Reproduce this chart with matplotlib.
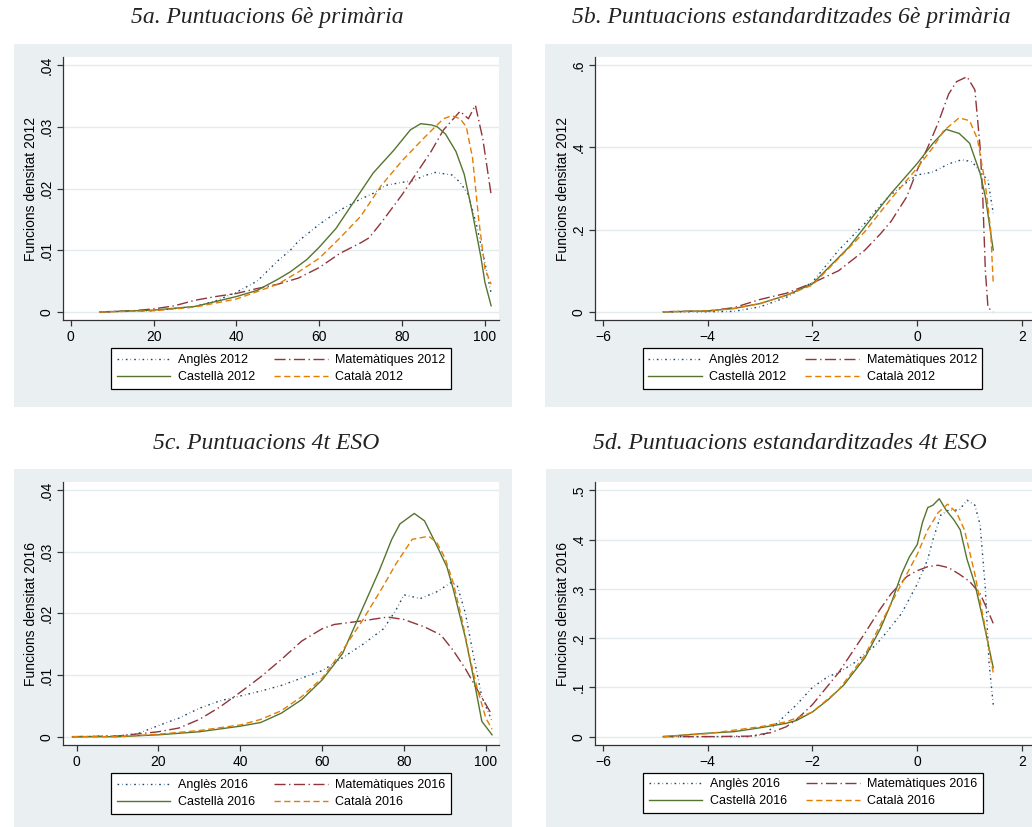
import matplotlib
matplotlib.use("Agg")
import matplotlib.pyplot as plt
from matplotlib.patches import Rectangle
from matplotlib.lines import Line2D

# ---- data (kernel densities) ----
# 5a. raw scores 6e primaria 2012
a_angles_x = [7, 20, 30, 35, 40, 45, 50, 53, 55, 60, 65, 70, 73, 76, 80, 83, 85, 88, 92, 94, 96, 98, 100, 101.5]
a_angles_y = [0, 0.0002, 0.0009, 0.0018, 0.0032, 0.005, 0.0083, 0.010, 0.0115, 0.0142, 0.0165, 0.0183, 0.0192,
              0.0205, 0.021, 0.0213, 0.022, 0.0226, 0.0222, 0.021, 0.019, 0.014, 0.008, 0.003]
a_mates_x = [7, 15, 20, 25, 30, 35, 40, 45, 50, 55, 60, 65, 70, 72, 75, 80, 84, 87, 90, 92, 94, 96, 97.7, 99.5, 101.5]
a_mates_y = [0, 0.0002, 0.0005, 0.001, 0.0019, 0.0025, 0.003, 0.0038, 0.0045, 0.0055, 0.0072, 0.0095, 0.0112,
             0.012, 0.0145, 0.019, 0.023, 0.026, 0.0295, 0.031, 0.0325, 0.0313, 0.0335, 0.028, 0.019]
a_cast_x = [7, 20, 30, 40, 45, 50, 53, 57, 60, 64, 66, 70, 73, 78, 82, 84.5, 87, 88.5, 90.5, 93, 95, 97, 99, 100, 101.5]
a_cast_y = [0, 0.0003, 0.0009, 0.0025, 0.0035, 0.0053, 0.0065, 0.0085, 0.0105, 0.0135, 0.0155, 0.0195, 0.0225,
            0.0262, 0.0295, 0.0305, 0.0303, 0.030, 0.0288, 0.026, 0.0223, 0.016, 0.009, 0.0048, 0.001]
a_cata_x = [7, 20, 30, 40, 50, 55, 60, 65, 70, 75, 80, 85, 88, 90, 92, 94, 95.5, 97, 98.5, 100, 101.5]
a_cata_y = [0, 0.0002, 0.0008, 0.0021, 0.0045, 0.0065, 0.0087, 0.012, 0.0155, 0.0205, 0.0245, 0.028, 0.030,
            0.0313, 0.0318, 0.0313, 0.030, 0.025, 0.015, 0.007, 0.0045]

# 5b. standardised scores 6e primaria 2012
b_angles_x = [-4.85, -4, -3.5, -3, -2.5, -2, -1.5, -1, -0.7, -0.5, -0.2, 0, 0.3, 0.6, 0.85, 1.05, 1.2, 1.35, 1.45]
b_angles_y = [0, 0, 0.001, 0.012, 0.035, 0.072, 0.15, 0.215, 0.26, 0.285, 0.315, 0.333, 0.34, 0.36, 0.37,
              0.365, 0.34, 0.32, 0.24]
b_mates_x = [-4.85, -4, -3.5, -3, -2.5, -2, -1.5, -1, -0.7, -0.5, -0.2, 0, 0.2, 0.4, 0.6, 0.75, 0.95, 1.1,
             1.2, 1.25, 1.3, 1.35, 1.45]
b_mates_y = [0, 0.002, 0.01, 0.03, 0.045, 0.07, 0.1, 0.15, 0.19, 0.22, 0.28, 0.345, 0.40, 0.46, 0.53, 0.56,
             0.572, 0.54, 0.40, 0.28, 0.10, 0.01, 0]
b_cast_x = [-4.85, -4, -3.5, -3, -2.5, -2, -1.3, -1, -0.5, 0, 0.3, 0.55, 0.8, 1.0, 1.2, 1.3, 1.45]
b_cast_y = [0, 0.002, 0.008, 0.02, 0.04, 0.068, 0.158, 0.207, 0.288, 0.361, 0.41, 0.444, 0.434, 0.41, 0.337,
            0.28, 0.15]
b_cata_x = [-4.85, -4, -3.5, -3, -2.5, -2, -1, -0.5, 0, 0.3, 0.5, 0.8, 1.0, 1.15, 1.3, 1.4, 1.45]
b_cata_y = [0, 0.002, 0.008, 0.02, 0.04, 0.065, 0.195, 0.275, 0.35, 0.40, 0.44, 0.472, 0.465, 0.42, 0.31,
            0.2, 0.07]

# 5c. raw scores 4t ESO 2016
c_angles_x = [-1, 10, 15, 20, 25, 30, 35, 40, 45, 50, 55, 60, 65, 70, 75, 78, 80, 84, 88, 91.5, 93, 95, 97, 99, 101.5]
c_angles_y = [0, 0.0001, 0.0005, 0.0018, 0.003, 0.0046, 0.0058, 0.0066, 0.0074, 0.0083, 0.0095, 0.0107,
              0.0128, 0.015, 0.0175, 0.0205, 0.023, 0.0224, 0.0235, 0.025, 0.0245, 0.02, 0.013, 0.0065, 0.0025]
c_mates_x = [-1, 10, 20, 25, 30, 35, 40, 45, 50, 55, 60, 63, 70, 76, 80, 85, 89, 92, 95, 98, 101.5]
c_mates_y = [0, 0.0001, 0.0008, 0.0014, 0.0028, 0.0048, 0.0072, 0.0097, 0.0125, 0.0155, 0.0175, 0.0182,
             0.0188, 0.0194, 0.019, 0.0178, 0.0165, 0.014, 0.011, 0.0075, 0.0035]
c_cast_x = [-1, 10, 20, 30, 40, 45, 50, 55, 60, 65, 70, 74, 77, 79, 82.5, 85, 88, 90.5, 92, 95, 97, 99, 101.5]
c_cast_y = [0, 0, 0.0003, 0.0008, 0.0017, 0.0023, 0.0038, 0.006, 0.0092, 0.0135, 0.021, 0.027, 0.032, 0.0345,
            0.0362, 0.035, 0.031, 0.0275, 0.024, 0.016, 0.0095, 0.0025, 0.0003]
c_cata_x = [-1, 10, 20, 30, 40, 45, 50, 55, 60, 65, 70, 75, 78, 82, 86, 88, 90, 92, 94, 96, 98, 100, 101.5]
c_cata_y = [0, 0, 0.0004, 0.001, 0.0019, 0.0028, 0.0042, 0.0065, 0.0095, 0.014, 0.019, 0.0245, 0.028, 0.032,
            0.0325, 0.0315, 0.029, 0.025, 0.0195, 0.013, 0.0075, 0.003, 0.0012]

# 5d. standardised scores 4t ESO 2016
d_angles_x = [-4.85, -3.2, -2.9, -2.6, -2.3, -2, -1.7, -1.5, -1.2, -1, -0.8, -0.6, -0.3, 0, 0.2, 0.3, 0.45,
              0.6, 0.8, 0.95, 1.1, 1.2, 1.3, 1.37, 1.45]
d_angles_y = [0, 0, 0.005, 0.035, 0.065, 0.1, 0.122, 0.13, 0.15, 0.168, 0.185, 0.21, 0.25, 0.31, 0.36, 0.4,
              0.45, 0.46, 0.46, 0.48, 0.47, 0.43, 0.3, 0.15, 0.065]
d_mates_x = [-4.85, -4, -3.2, -2.8, -2.5, -2.3, -2, -1.5, -1, -0.7, -0.5, -0.2, 0, 0.2, 0.4, 0.6, 0.8, 1.0,
             1.2, 1.35, 1.45]
d_mates_y = [0, 0, 0.001, 0.008, 0.02, 0.035, 0.065, 0.13, 0.21, 0.26, 0.29, 0.325, 0.337, 0.345, 0.348,
             0.343, 0.33, 0.315, 0.29, 0.255, 0.23]
d_cast_x = [-4.85, -4, -3.5, -3, -2.5, -2.3, -2, -1.7, -1.4, -1, -0.7, -0.5, -0.3, -0.15, 0, 0.1, 0.2, 0.3,
            0.42, 0.55, 0.7, 0.82, 0.95, 1.1, 1.25, 1.45]
d_cast_y = [0, 0.007, 0.01, 0.018, 0.027, 0.033, 0.05, 0.075, 0.105, 0.16, 0.22, 0.27, 0.33, 0.365, 0.39,
            0.435, 0.465, 0.47, 0.483, 0.46, 0.44, 0.42, 0.36, 0.31, 0.24, 0.14]
d_cata_x = [-4.85, -4, -3, -2.5, -2, -1.5, -1, -0.5, 0, 0.2, 0.4, 0.58, 0.75, 0.9, 1.1, 1.3, 1.45]
d_cata_y = [0, 0.006, 0.02, 0.03, 0.05, 0.095, 0.165, 0.27, 0.37, 0.42, 0.455, 0.472, 0.455, 0.42, 0.33,
            0.22, 0.13]

# ---- look (Stata s2color) ----
W, H = 1032, 827
BG = "#eaf0f2"
GRID = "#e3ebee"
NAVY, MAROON, GREEN, ORANGE = "#1a476f", "#90353b", "#55752f", "#e37e00"

plt.rcParams["font.family"] = ["Liberation Sans", "DejaVu Sans"]

fig = plt.figure(figsize=(W / 100, H / 100), dpi=100)


def px_rect(x0, y0, x1, y1):
    # pixel box (top-left origin) -> figure fraction [l, b, w, h]
    return [x0 / W, 1 - y1 / H, (x1 - x0) / W, (y1 - y0) / H]


def fmt_y(v):
    if v == 0:
        return "0"
    s = ("%.2f" % v).rstrip("0")
    return s[1:] if s.startswith("0") else s


panels = [
    dict(title="5a. Puntuacions 6è primària", tx=267, ty=18, bg=(14, 44, 512, 407),
         ax=(63, 57, 499, 320), leg=(114, 348, 448, 389), year="2012",
         xlim=(-1.9, 103.4), ylim=(-0.0013, 0.0413), xt=[0, 20, 40, 60, 80, 100],
         yt=[0, 0.01, 0.02, 0.03, 0.04],
         series=[(a_angles_x, a_angles_y), (a_mates_x, a_mates_y), (a_cast_x, a_cast_y), (a_cata_x, a_cata_y)]),
    dict(title="5b. Puntuacions estandarditzades 6è primària", tx=791, ty=18, bg=(545, 44, 1032, 407),
         ax=(595, 57, 1032, 320), leg=(645, 348, 980, 389), year="2012",
         xlim=(-6.15, 2.19), ylim=(-0.02, 0.62), xt=[-6, -4, -2, 0, 2],
         yt=[0, 0.2, 0.4, 0.6],
         series=[(b_angles_x, b_angles_y), (b_mates_x, b_mates_y), (b_cast_x, b_cast_y), (b_cata_x, b_cata_y)]),
    dict(title="5c. Puntuacions 4t ESO", tx=266, ty=443, bg=(14, 469, 512, 827),
         ax=(63, 482, 499, 745), leg=(114, 773, 448, 814), year="2016",
         xlim=(-3.3, 103.2), ylim=(-0.00135, 0.0413), xt=[0, 20, 40, 60, 80, 100],
         yt=[0, 0.01, 0.02, 0.03, 0.04],
         series=[(c_angles_x, c_angles_y), (c_mates_x, c_mates_y), (c_cast_x, c_cast_y), (c_cata_x, c_cata_y)]),
    dict(title="5d. Puntuacions estandarditzades 4t ESO", tx=790, ty=443, bg=(546, 469, 1032, 827),
         ax=(595, 482, 1032, 745), leg=(646, 773, 980, 813), year="2016",
         xlim=(-6.15, 2.19), ylim=(-0.017, 0.517), xt=[-6, -4, -2, 0, 2],
         yt=[0, 0.1, 0.2, 0.3, 0.4, 0.5],
         series=[(d_angles_x, d_angles_y), (d_mates_x, d_mates_y), (d_cast_x, d_cast_y), (d_cata_x, d_cata_y)]),
]

styles = [
    ("Anglès", NAVY, (0, (1.2, 2.2, 0.4, 2.2))),
    ("Matemàtiques", MAROON, (0, (8, 2.5, 1, 2.5))),
    ("Castellà", GREEN, "-"),
    ("Català", ORANGE, (0, (4.5, 2.5))),
]

for p in panels:
    x0, y0, x1, y1 = p["bg"]
    fig.patches.append(Rectangle((x0 / W, 1 - y1 / H), (x1 - x0) / W, (y1 - y0) / H,
                                 transform=fig.transFigure, facecolor=BG, edgecolor="none", zorder=-10))
    fig.text(p["tx"] / W, 1 - p["ty"] / H, p["title"], ha="center", va="center",
             family=["Liberation Serif", "DejaVu Serif"], style="italic", fontsize=17, color="#222222")

    ax = fig.add_axes(px_rect(*p["ax"]))
    ax.set_facecolor("white")
    handles = []
    for (xs, ys), (name, col, ls) in zip(p["series"], styles):
        ax.plot(xs, ys, color=col, linestyle=ls, linewidth=1.0)
        handles.append(Line2D([], [], color=col, linestyle=ls, linewidth=1.0, label=f"{name} {p['year']}"))

    ax.set_xlim(*p["xlim"])
    ax.set_ylim(*p["ylim"])
    ax.set_xticks(p["xt"])
    ax.set_yticks(p["yt"])
    ax.set_yticklabels([fmt_y(v) for v in p["yt"]], rotation=90, va="center")
    ax.grid(axis="y", color=GRID, linewidth=1.0)
    ax.set_axisbelow(True)
    for s in ["top", "right"]:
        ax.spines[s].set_visible(False)
    for s in ["left", "bottom"]:
        ax.spines[s].set_color("#333333")
        ax.spines[s].set_linewidth(0.9)
    ax.tick_params(labelsize=10, length=4, width=0.9, color="#333333", pad=3)
    ax.set_ylabel(f"Funcions densitat {p['year']}", fontsize=10, labelpad=1)

    lx0, ly0, lx1, ly1 = p["leg"]
    order = [handles[0], handles[2], handles[1], handles[3]]
    leg = fig.legend(handles=order, ncol=2, loc="center",
                     bbox_to_anchor=((lx0 + lx1) / 2 / W, 1 - (ly0 + ly1) / 2 / H),
                     frameon=True, fancybox=False, fontsize=9, handlelength=4.3,
                     columnspacing=1.5, labelspacing=0.4, borderpad=0.45, handletextpad=0.6,
                     framealpha=1.0)
    leg.get_frame().set_edgecolor("black")
    leg.get_frame().set_linewidth(0.9)
    leg.get_frame().set_facecolor("white")

fig.savefig("out.png", dpi=100, facecolor="white")
